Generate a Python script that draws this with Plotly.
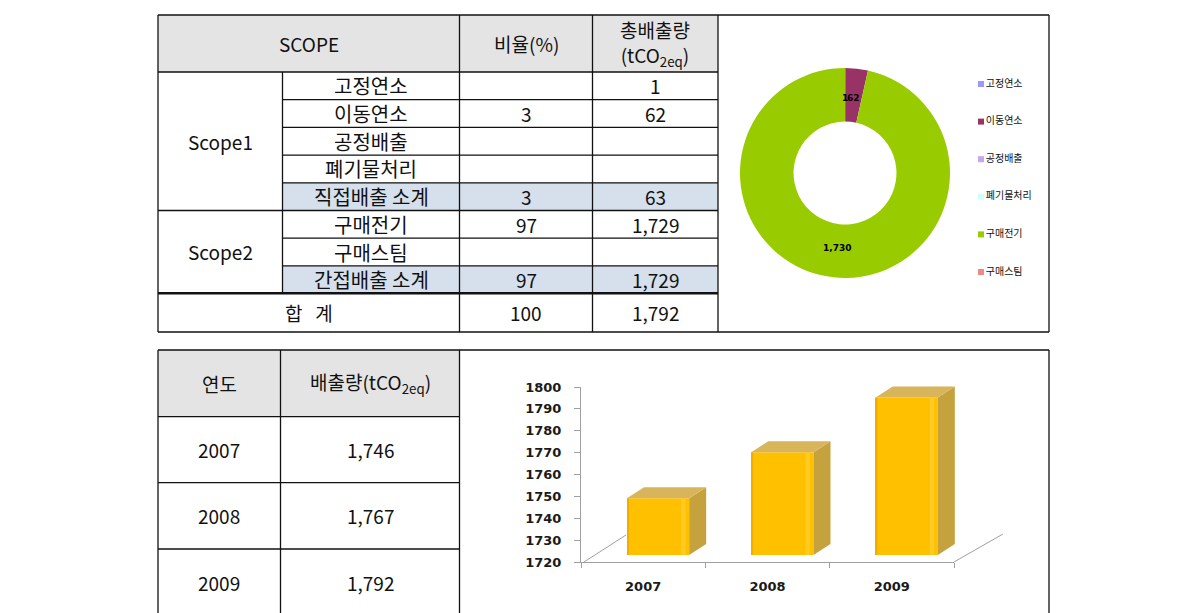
import math
import plotly.graph_objects as go

W, H = 1190, 613

# ---------------- data ----------------
scope_items = ["고정연소", "이동연소", "공정배출", "폐기물처리", "직접배출 소계",
               "구매전기", "구매스팀", "간접배출 소계"]
scope_ratio = [None, 3, None, None, 3, 97, None, 97]
scope_total = [1, 62, None, None, 63, 1729, None, 1729]
scope_groups = ["Scope1", "Scope2"]
total_ratio = 100
total_emission = 1792

pie_labels = ["고정연소", "이동연소", "공정배출", "폐기물처리", "구매전기", "구매스팀"]
pie_values = [1, 62, 0, 0, 1730, 0]
pie_colors = ["#9999FF", "#993366", "#C4A8F0", "#CCFFFF", "#99CC00", "#F08888"]

years = ["2007", "2008", "2009"]
yearly = [1746, 1767, 1792]


def X(v):
    return v / W


def Y(v):
    return 1 - v / H


shapes = []
annos = []
BLACK = "#111111"
FONT = "Noto Sans CJK KR"


def rect(x0, y0, x1, y1, fill):
    shapes.append(dict(type="rect", xref="paper", yref="paper", x0=X(x0), x1=X(x1),
                       y0=Y(y1), y1=Y(y0), fillcolor=fill, line=dict(width=0), layer="below"))


def line(x0, y0, x1, y1, w=1.3, color=BLACK):
    shapes.append(dict(type="line", xref="paper", yref="paper", x0=X(x0), x1=X(x1),
                       y0=Y(y0), y1=Y(y1), line=dict(color=color, width=w)))


def txt(x, y, s, size=19, family=FONT, weight="normal", color=BLACK):
    annos.append(dict(xref="paper", yref="paper", x=X(x), y=Y(y), text=s, showarrow=False,
                      xanchor="center", yanchor="middle",
                      font=dict(family=family, size=size, color=color, weight=weight)))


# ---------------- top table ----------------
C = [158, 282.5, 459.5, 592.5, 718]
R = [15, 72, 99.7, 127.4, 155.1, 182.8, 210.5, 238.2, 265.9, 293.3, 332]
BOX_R = 1049

rect(C[0], R[0], C[4], R[1], "#E4E4E4")
for k in (5, 8):
    rect(C[1], R[k], C[4], R[k + 1], "#D5E0EC")

line(C[0], R[0], BOX_R, R[0])
line(C[0], R[10], BOX_R, R[10])
line(C[0], R[0], C[0], R[10])
line(BOX_R, R[0], BOX_R, R[10])
line(C[0], R[1], C[4], R[1])
for k in (2, 3, 4, 5, 7, 8):
    line(C[1], R[k], C[4], R[k])
line(C[0], R[6], C[4], R[6])
line(C[0], R[9], C[4], R[9], w=2.4)
line(C[1], R[1], C[1], R[9])
for c in (C[2], C[3], C[4]):
    line(c, R[0], c, R[10])

txt((C[0] + C[2]) / 2, (R[0] + R[1]) / 2, "SCOPE")
txt((C[2] + C[3]) / 2, (R[0] + R[1]) / 2, "비율(%)")
txt((C[3] + C[4]) / 2, (R[0] + R[1]) / 2, "총배출량<br>(tCO<sub>2eq</sub>)")
for k, item in enumerate(scope_items):
    yc = (R[k + 1] + R[k + 2]) / 2
    txt((C[1] + C[2]) / 2, yc, item, size=20)
    if scope_ratio[k] is not None:
        txt((C[2] + C[3]) / 2, yc, f"{scope_ratio[k]:,}")
    if scope_total[k] is not None:
        txt((C[3] + C[4]) / 2, yc, f"{scope_total[k]:,}")
txt((C[0] + C[1]) / 2, (R[1] + R[6]) / 2, scope_groups[0])
txt((C[0] + C[1]) / 2, (R[6] + R[9]) / 2, scope_groups[1])
txt((C[0] + C[2]) / 2, (R[9] + R[10]) / 2, "합\u00a0\u00a0\u00a0계")
txt((C[2] + C[3]) / 2, (R[9] + R[10]) / 2, f"{total_ratio:,}")
txt((C[3] + C[4]) / 2, (R[9] + R[10]) / 2, f"{total_emission:,}")

# ---------------- bottom table ----------------
BC = [158, 280.5, 459.5]
BR = [350, 416.7, 482.7, 549, 615]
rect(BC[0], BR[0], BC[2], BR[1], "#E4E4E4")
line(BC[0], BR[0], BOX_R, BR[0])
line(BC[0], BR[0], BC[0], 613)
line(BOX_R, BR[0], BOX_R, 613)
for c in BC[1:]:
    line(c, BR[0], c, 613)
for r in BR[1:4]:
    line(BC[0], r, BC[2], r)
txt((BC[0] + BC[1]) / 2, (BR[0] + BR[1]) / 2, "연도")
txt((BC[1] + BC[2]) / 2, (BR[0] + BR[1]) / 2, "배출량(tCO<sub>2eq</sub>)")
for k, (yr, v) in enumerate(zip(years, yearly)):
    yc = (BR[k + 1] + BR[k + 2]) / 2
    txt((BC[0] + BC[1]) / 2, yc, yr)
    txt((BC[1] + BC[2]) / 2, yc, f"{v:,}")

fig = go.Figure()

# ---------------- donut ----------------
PCX, PCY, PR = 845, 173, 105
fig.add_trace(go.Pie(
    labels=pie_labels, values=pie_values, hole=0.49, sort=False, direction="clockwise",
    rotation=0, marker=dict(colors=pie_colors, line=dict(width=0)),
    textinfo="none",
    domain=dict(x=[X(PCX - PR), X(PCX + PR)], y=[Y(PCY + PR), Y(PCY - PR)]),
    showlegend=False,
))
# data labels at the middle of each slice (angle derived from the values)
ptotal = sum(pie_values)
cum = 0
RM = 75
for v in pie_values:
    if v:
        a = (cum + v / 2) / ptotal * 2 * math.pi
        txt(PCX + RM * math.sin(a), PCY - RM * math.cos(a), f"{v:,}", size=9,
            family="DejaVu Sans", weight="bold", color="#000000")
    cum += v

# legend built from the pie categories
fig.add_trace(go.Scatter(
    x=[0] * len(pie_labels), y=list(range(len(pie_labels))), mode="markers+text",
    marker=dict(symbol="square", size=6, color=pie_colors), text=pie_labels,
    textposition="middle right", textfont=dict(family=FONT, size=10, color="#111111"),
    cliponaxis=False, xaxis="x3", yaxis="y3", showlegend=False, hoverinfo="skip",
))

# ---------------- 3D bar chart ----------------
XS = (954 - 581) / 3.0      # px per category
YS = (562 - 387) / 80.0     # px per unit
DX = 17 / XS                # depth offset (category units)
DY = 11 / YS                # depth offset (value units)
OFF, BW = -0.13, 0.5
YMIN = 1720
xs = list(range(len(years)))

# invisible trace so the visible value axes are drawn
fig.add_trace(go.Scatter(x=xs, y=yearly, mode="none",
                         xaxis="x", yaxis="y", showlegend=False, hoverinfo="skip"))

for i, v in enumerate(yearly):
    L = i + OFF
    Rr = L + BW
    fig.add_trace(go.Scatter(
        x=[Rr, Rr, Rr + DX, Rr + DX, Rr], y=[YMIN, v, v + DY, YMIN + DY, YMIN],
        fill="toself", fillcolor="#C6A23F", line=dict(width=0), mode="lines",
        xaxis="x2", yaxis="y2", showlegend=False, hoverinfo="skip"))
    fig.add_trace(go.Scatter(
        x=[L, Rr, Rr + DX, L + DX, L], y=[v, v, v + DY, v + DY, v],
        fill="toself", fillcolor="#D8B45A", line=dict(width=0), mode="lines",
        xaxis="x2", yaxis="y2", showlegend=False, hoverinfo="skip"))

fig.add_trace(go.Bar(
    x=xs, y=yearly, width=BW, offset=OFF,
    marker=dict(color="#FFC000", line=dict(width=0)),
    xaxis="x2", yaxis="y2", showlegend=False, name="배출량",
))
# shading stripes on the front faces (left edge and soft right highlight)
fig.add_trace(go.Bar(
    x=xs, y=yearly, width=0.015, offset=OFF,
    marker=dict(color="#F2AE00", line=dict(width=0)),
    xaxis="x2", yaxis="y2", showlegend=False, hoverinfo="skip"))
fig.add_trace(go.Bar(
    x=xs, y=yearly, width=0.035, offset=OFF + BW - 0.065,
    marker=dict(color="#FFCB22", line=dict(width=0)),
    xaxis="x2", yaxis="y2", showlegend=False, hoverinfo="skip"))

# floor diagonals
line(584, 562, 626, 535, w=1, color="#A0A0A0")
line(954, 562, 1003, 534, w=1, color="#A0A0A0")

tickfont = dict(family="DejaVu Sans", size=13, color="#1a1a1a", weight="bold")

fig.update_layout(
    width=W, height=H, margin=dict(l=0, r=0, t=0, b=0, autoexpand=False),
    paper_bgcolor="white", plot_bgcolor="rgba(0,0,0,0)",
    shapes=shapes, annotations=annos, barmode="overlay",
    xaxis=dict(domain=[X(581), X(954)], range=[-0.5, 2.5], anchor="y", automargin=False,
               tickvals=xs, ticktext=years, ticks="",
               showline=True, linecolor="#A0A0A0", linewidth=1, showgrid=False,
               zeroline=False, tickfont=tickfont, ticklabelstandoff=12,
               minor=dict(ticks="outside", ticklen=5, tickcolor="#A0A0A0",
                          tick0=-0.5, dtick=1, showgrid=False)),
    yaxis=dict(domain=[Y(562), Y(387)], range=[YMIN, 1800], anchor="x", dtick=10,
               automargin=False,
               ticks="outside", ticklen=6, tickcolor="#A0A0A0", showline=True,
               linecolor="#A0A0A0", linewidth=1, showgrid=False, zeroline=False,
               tickfont=tickfont, ticklabelstandoff=10),
    xaxis2=dict(domain=[X(581), X(1010)], range=[-0.5, -0.5 + (1010 - 581) / XS],
                anchor="y2", visible=False, automargin=False),
    yaxis2=dict(domain=[Y(555), Y(380)], range=[YMIN, 1800], anchor="x2", visible=False,
                automargin=False),
    xaxis3=dict(domain=[X(975), X(1045)], range=[-0.3, 3.2], anchor="y3", visible=False,
                automargin=False),
    yaxis3=dict(domain=[Y(272), Y(84)], range=[5, 0], anchor="x3", visible=False,
                automargin=False),
)

fig.write_html("out.html", config={"displayModeBar": False},
               post_script="document.body.style.margin='0';document.body.style.overflow='hidden';")
